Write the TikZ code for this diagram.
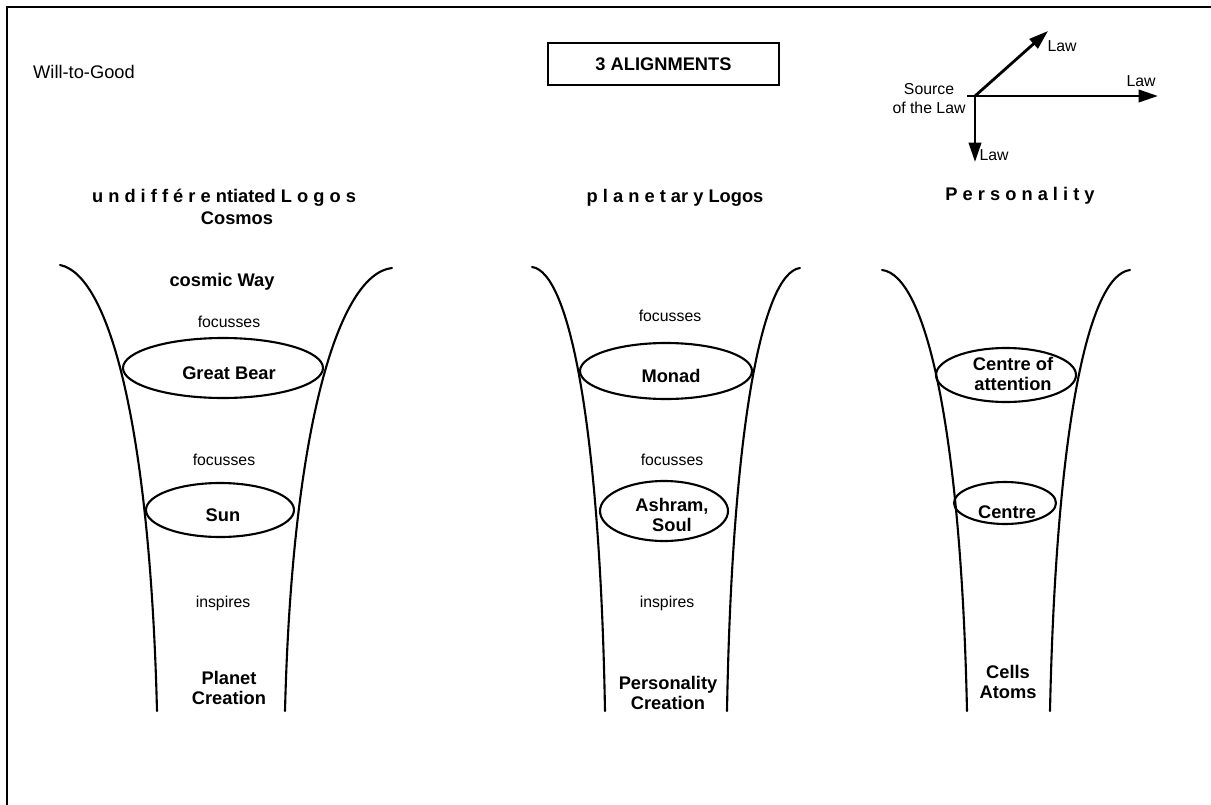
\documentclass[tikz,border=0pt]{standalone}
\usepackage{fontspec}
\setmainfont{Liberation Sans}
\usepackage{tikz}
\usetikzlibrary{calc,arrows.meta}
\definecolor{ink}{HTML}{000000}
\definecolor{paper}{HTML}{FFFFFF}
\tikzset{
  frame/.style={draw=ink, line width=1.6pt},
  base/.style={draw=ink, line width=1.2pt, line cap=round, line join=round},
  ring/.style={draw=ink, line width=1.2pt},
  arr/.style={draw=ink, line width=1.6pt, -{Triangle[length=11pt,width=7pt]}},
  lab/.style={text=ink, inner sep=0pt, font=\fontsize{9}{10.8}\selectfont},
  labs/.style={lab, align=center, font=\fontsize{9}{10.8}\selectfont},
  labb/.style={text=ink, inner sep=0pt, align=center, font=\fontsize{10.4}{11.6}\selectfont\bfseries},
  tag/.style={draw=ink, line width=1.4pt, minimum width=46.2mm, minimum height=8.4mm, inner sep=0pt,
    font=\fontsize{10.4}{12}\selectfont\bfseries},
}

\begin{document}
\begin{tikzpicture}[x=0.02cm, y=-0.02cm]
  \useasboundingbox[fill=paper] (0,0) rectangle (1211,805);
  \draw[frame] (7,7) rectangle (1240,840);

  % top
  \node[lab, font=\fontsize{10.4}{12}\selectfont] (will) at (84,72) {Will-to-Good};
  \node[tag] (title) at (663.5,64) {3 ALIGNMENTS};

  % source of the law
  \coordinate (src) at (975,96);
  \coordinate (tail) at (967,96);
  \coordinate (tipNE) at (1048,31);
  \coordinate (tipE) at (1158,96);
  \coordinate (tipS) at (975,162);
  \draw[arr] (src) -- (tipNE);
  \draw[arr] (tail) -- (tipE);
  \draw[arr] (src) -- (tipS);
  \node[labs] (source) at (929,99) {Source\\of the Law};
  \node[lab] (lawNE) at (1062,46) {Law};
  \node[lab] (lawE) at (1141,81) {Law};
  \node[lab] (lawS) at (994,155) {Law};

  % headings
  \node[labb] (undiff) at (224,198) {u n d i f f é r e ntiated L o g o s};
  \node[labb] (cosmos) at (237,218) {Cosmos};
  \node[labb] (planlog) at (675,198) {p l a n e t ar y Logos};
  \node[labb] (perso) at (1020,196) {P e r s o n a l i t y};

  % cosmos funnel
  \draw[base] (60,265) .. controls (110,275) and (150,430) .. (157,711);
  \draw[base] (392,268) .. controls (338,274) and (292,430) .. (285,711);
  \draw[ring] (223,368) ellipse (100 and 30);
  \draw[ring] (220,510) ellipse (74 and 27);
  \node[labb] (way) at (222,282) {cosmic Way};
  \node[lab] (foc1) at (229,322) {focusses};
  \node[labb] (bear) at (229,373) {Great Bear};
  \node[lab] (foc2) at (224,460) {focusses};
  \node[labb] (sun) at (223,515) {Sun};
  \node[lab] (insp1) at (223,603) {inspires};
  \node[labb] (planet) at (229,688) {Planet\\Creation};

  % planetary funnel
  \draw[base] (532,267) .. controls (570,272) and (600,430) .. (605,711);
  \draw[base] (800,268) .. controls (762,273) and (732,430) .. (727,711);
  \draw[ring] (666,371) ellipse (86 and 28);
  \draw[ring] (664,511) ellipse (64 and 30);
  \node[lab] (foc3) at (670,316) {focusses};
  \node[labb] (monad) at (671,376) {Monad};
  \node[lab] (foc4) at (672,460) {focusses};
  \node[labb] (ashram) at (672,515) {Ashram,\\Soul};
  \node[lab] (insp2) at (667,603) {inspires};
  \node[labb] (pcreat) at (668,693) {Personality\\Creation};

  % personality funnel
  \draw[base] (882,270) .. controls (926,275) and (961,430) .. (967,711);
  \draw[base] (1130,270) .. controls (1088,275) and (1056,430) .. (1050,711);
  \draw[ring] (1006,375) ellipse (70 and 27);
  \draw[ring] (1005,503) ellipse (51 and 21);
  \node[labb] (attn) at (1013,374) {Centre of\\attention};
  \node[labb] (centre) at (1007,512) {Centre};
  \node[labb] (cells) at (1008,682) {Cells\\Atoms};
\end{tikzpicture}
\end{document}
